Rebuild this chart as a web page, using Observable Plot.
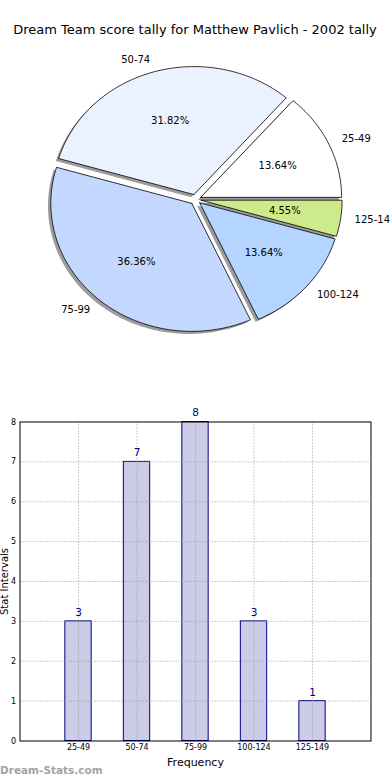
<!DOCTYPE html>
<html>
<head>
<meta charset="utf-8">
<script src="https://cdn.jsdelivr.net/npm/d3@7"></script>
<script src="https://cdn.jsdelivr.net/npm/@observablehq/plot@0.6"></script>
<style>
  html, body { margin: 0; padding: 0; background: #fff; }
  #wrap { position: relative; width: 390px; height: 780px; overflow: hidden; font-family: "DejaVu Sans", sans-serif; }
  #title { position: absolute; left: 0; top: 21px; width: 390px; text-align: center; font-size: 13px; line-height: 18px; color: #000; white-space: nowrap; }
  #pie { position: absolute; left: 0; top: 40px; }
  #bar { position: absolute; left: 0; top: 400px; }
  #mark { position: absolute; left: 0; top: 763px; font-size: 10.5px; font-weight: bold; color: #a3a3a3; line-height: 14px; }
</style>
</head>
<body>
<div id="wrap">
  <div id="title">Dream Team score tally for Matthew Pavlich - 2002 tally</div>
  <div id="pie"></div>
  <div id="bar"></div>
  <div id="mark">Dream-Stats.com</div>
</div>
<script>
// ---- data ----
const categories = ["25-49", "50-74", "75-99", "100-124", "125-149"];
const counts = [3, 7, 8, 3, 1];
const pieColors = ["#ffffff", "#ebf2ff", "#c4d8ff", "#b3d5ff", "#cdeb8a"];
const yTicks = [0, 1, 2, 3, 4, 5, 6, 7, 8];

// ---- pie geometry (screen layout constants) ----
const PW = 390, PH = 340;
const cx = 195, cy = 159;   // local center in px
const rx = 141, ry = 128;   // radii in px
const explode = 0.04;
const shadowOff = 0.02;

const total = d3.sum(counts);
let acc = 0;
const slices = categories.map((c, i) => {
  const a0 = acc / total * 2 * Math.PI;
  acc += counts[i];
  const a1 = acc / total * 2 * Math.PI;
  const m = (a0 + a1) / 2;
  const ox = explode * Math.cos(m), oy = explode * Math.sin(m);
  return {cat: c, value: counts[i], color: pieColors[i], a0, a1, m, ox, oy,
          pct: (counts[i] / total * 100).toFixed(2) + "%"};
});

function slicePoints(s, dx, dy) {
  const pts = [{x: s.ox + dx, y: s.oy + dy}];
  const n = Math.max(8, Math.ceil((s.a1 - s.a0) / (Math.PI / 180)));
  for (let k = 0; k <= n; k++) {
    const a = s.a0 + (s.a1 - s.a0) * k / n;
    pts.push({x: s.ox + dx + Math.cos(a), y: s.oy + dy + Math.sin(a)});
  }
  pts.push({x: s.ox + dx, y: s.oy + dy});
  return pts;
}

const pieMarks = [];
slices.forEach(s => {
  pieMarks.push(Plot.line(slicePoints(s, -shadowOff, -shadowOff),
    {x: "x", y: "y", fill: "#3a3a3a", fillOpacity: 0.5, stroke: "none"}));
});
slices.forEach(s => {
  pieMarks.push(Plot.line(slicePoints(s, 0, 0),
    {x: "x", y: "y", fill: s.color, stroke: "#000", strokeWidth: 0.8, strokeLinejoin: "miter"}));
});
const labelData = slices.map(s => ({
  cat: s.cat, pct: s.pct, right: Math.cos(s.m) >= 0,
  lx: s.ox + 1.1 * Math.cos(s.m), ly: s.oy + 1.1 * Math.sin(s.m),
  px: s.ox + 0.6 * Math.cos(s.m), py: s.oy + 0.6 * Math.sin(s.m)
}));
pieMarks.push(Plot.text(labelData.filter(d => d.right), {x: "lx", y: "ly", text: "cat", textAnchor: "start", fill: "#000"}));
pieMarks.push(Plot.text(labelData.filter(d => !d.right), {x: "lx", y: "ly", text: "cat", textAnchor: "end", fill: "#000"}));
pieMarks.push(Plot.text(labelData, {x: "px", y: "py", text: "pct", textAnchor: "middle", fill: "#000"}));

const pie = Plot.plot({
  width: PW, height: PH,
  marginTop: 0, marginBottom: 0, marginLeft: 0, marginRight: 0,
  x: {type: "linear", domain: [-cx / rx, (PW - cx) / rx], range: [0, PW], axis: null},
  y: {type: "linear", domain: [-(PH - cy) / ry, cy / ry], range: [PH, 0], axis: null},
  style: {fontFamily: "DejaVu Sans", fontSize: "10px", background: "transparent", overflow: "hidden"},
  marks: pieMarks
});
document.getElementById("pie").appendChild(pie);

// ---- bar chart ----
const barData = categories.map((c, i) => ({cat: c, i: i + 1, value: counts[i]}));
const halfW = 0.225;
const bar = Plot.plot({
  width: 390, height: 380,
  marginTop: 21.5, marginBottom: 39.5, marginLeft: 19.5, marginRight: 19.5,
  x: {type: "linear", domain: [0, 6]},
  y: {type: "linear", domain: [0, 8]},
  style: {fontFamily: "DejaVu Sans", fontSize: "8px", background: "transparent", overflow: "visible"},
  marks: [
    Plot.rectY(barData, {x1: d => d.i - halfW, x2: d => d.i + halfW, y1: 0, y2: "value",
      fill: "#ccccE6", stroke: "#000080", strokeWidth: 1}),
    Plot.gridX(barData.map(d => d.i), {stroke: "#9a9a9a", strokeOpacity: 1, strokeDasharray: "1,2"}),
    Plot.gridY(yTicks.slice(1, -1), {stroke: "#9a9a9a", strokeOpacity: 1, strokeDasharray: "1,2"}),
    Plot.text(barData, {x: "i", y: "value", text: d => String(d.value), dy: -9, fill: "#000080", fontSize: 10.5}),
    Plot.frame({stroke: "#000", strokeWidth: 1}),
    Plot.axisY(yTicks, {tickSize: 0, tickPadding: 4, label: null, fill: "#000"}),
    Plot.axisX(barData.map(d => d.i), {tickSize: 0, tickPadding: 3, tickFormat: i => categories[i - 1], label: null, fill: "#000"}),
    Plot.text(["Frequency"], {frameAnchor: "bottom", dy: 21, textAnchor: "middle", lineAnchor: "middle", fontSize: 11, fill: "#000"}),
    Plot.text(["Stat Intervals"], {frameAnchor: "left", dx: -15.5, rotate: -90, textAnchor: "middle", lineAnchor: "middle", fontSize: 10, fill: "#000"})
  ]
});
document.getElementById("bar").appendChild(bar);
</script>
</body>
</html>
